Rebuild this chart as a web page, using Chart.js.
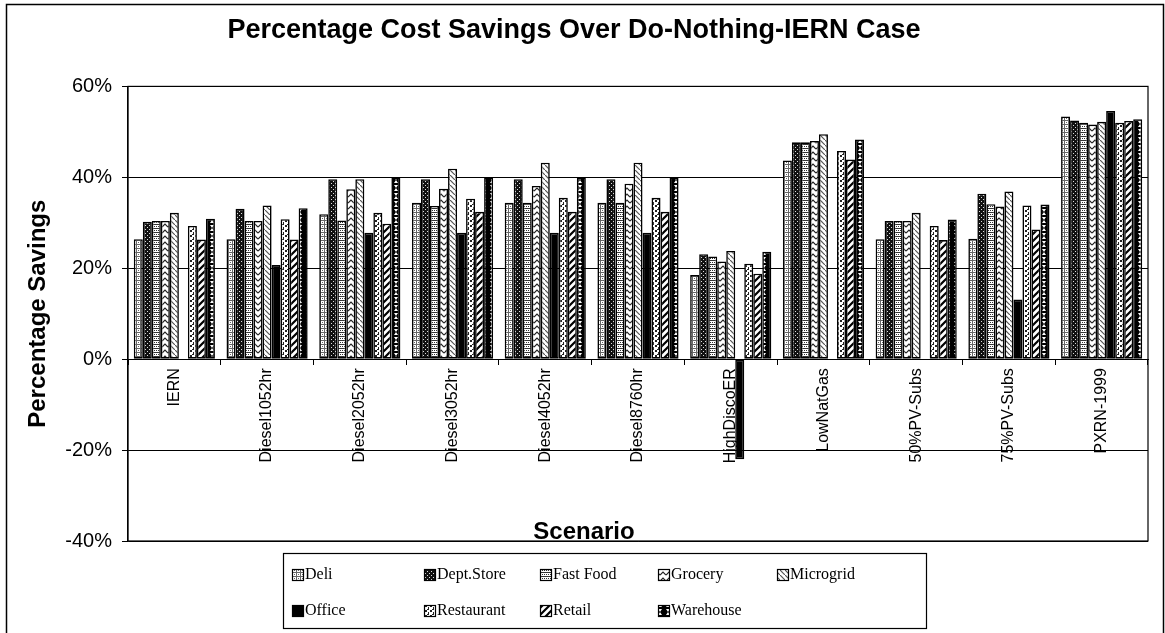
<!DOCTYPE html>
<html>
<head>
<meta charset="utf-8">
<script src="https://cdn.jsdelivr.net/npm/chart.js@4.4.1/dist/chart.umd.min.js"></script>
<style>
  body { margin: 0; background: #fff; }
</style>
</head>
<body>
<canvas id="savingsChart" width="1165" height="633"></canvas>
<script>
// Scenarios (x categories)
const scenarios = ['IERN', 'Diesel1052hr', 'Diesel2052hr', 'Diesel3052hr', 'Diesel4052hr',
    'Diesel8760hr', 'HighDiscoER', 'LowNatGas', '50%PV-Subs', '75%PV-Subs', 'PXRN-1999'];

// Percentage savings per building type
const deli       = [26.4, 26.4, 31.9, 34.4, 34.4, 34.4, 18.5, 43.7, 26.4, 26.5, 53.4];
const deptStore  = [30.2, 33.1, 39.6, 39.6, 39.6, 39.6, 23.1, 47.7, 30.4, 36.4, 52.5];
const fastFood   = [30.4, 30.4, 30.5, 33.7, 34.4, 34.4, 22.6, 47.7, 30.4, 34.1, 52.0];
const grocery    = [30.4, 30.4, 37.4, 37.5, 38.1, 38.6, 21.5, 48.0, 30.4, 33.6, 51.6];
const microgrid  = [32.2, 33.8, 39.6, 41.9, 43.2, 43.2, 23.8, 49.5, 32.2, 36.9, 52.2];
const office     = [0, 20.7, 27.8, 27.8, 27.8, 27.8, -22.0, 0, 0, 13.1, 54.6];
const restaurant = [29.3, 30.8, 32.2, 35.3, 35.5, 35.5, 21.0, 45.8, 29.3, 33.8, 52.0];
const retail     = [26.3, 26.3, 29.8, 32.4, 32.4, 32.4, 18.8, 43.9, 26.2, 28.5, 52.4];
const warehouse  = [30.9, 33.2, 40.0, 40.0, 40.0, 40.0, 23.6, 48.3, 30.7, 34.0, 52.8];

const yTicks = [-40, -20, 0, 20, 40, 60];

// fill patterns (black and white print look)
function pat(size, draw) {
    const c = document.createElement('canvas');
    c.width = c.height = size;
    const g = c.getContext('2d');
    g.fillStyle = '#fff';
    g.fillRect(0, 0, size, size);
    draw(g);
    return g.createPattern(c, 'repeat');
}

const fills = {
    deli: pat(4, g => { g.fillStyle = '#666'; g.fillRect(0, 0, 4, 1); g.fillRect(0, 0, 1, 4); g.fillRect(2, 2, 1, 1); }),
    dept: pat(4, g => { g.fillStyle = '#111'; g.fillRect(0, 0, 4, 4); g.fillStyle = '#ddd'; g.fillRect(1, 1, 1, 1); g.fillRect(3, 3, 1, 1); }),
    fast: pat(4, g => { g.fillStyle = '#333'; g.fillRect(0, 0, 4, 1); g.fillRect(0, 2, 1, 1); g.fillRect(2, 2, 1, 1); }),
    grocery: pat(6, g => {
        g.strokeStyle = '#222'; g.lineWidth = 1.2;
        g.beginPath(); g.moveTo(0, 5); g.lineTo(3, 2); g.lineTo(6, 5); g.stroke();
    }),
    micro: pat(5, g => {
        g.strokeStyle = '#555'; g.lineWidth = 1.2;
        g.beginPath(); g.moveTo(0, 0); g.lineTo(5, 5); g.stroke();
    }),
    office: '#000',
    rest: pat(5, g => { g.fillStyle = '#222'; g.fillRect(0, 0, 2, 2); g.fillRect(3, 2, 1, 2); g.fillRect(2, 4, 2, 1); }),
    retail: pat(7, g => {
        g.strokeStyle = '#000'; g.lineWidth = 2.2;
        g.beginPath();
        g.moveTo(0, 7); g.lineTo(7, 0);
        g.moveTo(-1, 1); g.lineTo(1, -1);
        g.moveTo(6, 8); g.lineTo(8, 6);
        g.stroke();
    }),
    ware: pat(8, g => {
        g.fillStyle = '#000'; g.fillRect(0, 0, 8, 8);
        g.fillStyle = '#fff';
        g.beginPath();
        g.moveTo(2, 1); g.lineTo(6, 1); g.lineTo(4, 4); g.closePath();
        g.moveTo(2, 7); g.lineTo(6, 7); g.lineTo(4, 4); g.closePath();
        g.fill();
    })
};

const series = [
    ['Deli', deli, fills.deli],
    ['Dept.Store', deptStore, fills.dept],
    ['Fast Food', fastFood, fills.fast],
    ['Grocery', grocery, fills.grocery],
    ['Microgrid', microgrid, fills.micro],
    ['Office', office, fills.office],
    ['Restaurant', restaurant, fills.rest],
    ['Retail', retail, fills.retail],
    ['Warehouse', warehouse, fills.ware]
];

// legend grid positions
const legendCols = [298, 430, 546, 664, 783];
const legendRows = [575, 611];

const framePlugin = {
    id: 'frame',
    afterDraw(chart) {
        const ctx = chart.ctx;
        const a = chart.chartArea;
        ctx.save();
        ctx.strokeStyle = '#000';
        ctx.lineWidth = 1.5;
        ctx.strokeRect(6.5, 4.5, 1157, 700);
        ctx.lineWidth = 1.2;
        ctx.strokeRect(a.left, a.top, a.right - a.left, a.bottom - a.top);

        // x axis title sits on the bottom edge
        ctx.fillStyle = '#000';
        ctx.font = 'bold 24px "Liberation Sans", Arial, sans-serif';
        ctx.textAlign = 'center';
        ctx.textBaseline = 'alphabetic';
        ctx.fillText('Scenario', 584, a.bottom - 2);

        // legend box
        ctx.lineWidth = 1.2;
        ctx.strokeRect(283.5, 553.5, 643, 75);
        ctx.font = '16px "Liberation Serif", "Times New Roman", serif';
        ctx.textAlign = 'left';
        ctx.textBaseline = 'middle';
        chart.data.datasets.forEach((ds, i) => {
            const x = legendCols[i % 5];
            const y = legendRows[Math.floor(i / 5)];
            ctx.fillStyle = ds.backgroundColor;
            ctx.fillRect(x - 5.5, y - 5.5, 11, 11);
            ctx.lineWidth = 1.2;
            ctx.strokeRect(x - 5.5, y - 5.5, 11, 11);
            ctx.fillStyle = '#000';
            ctx.fillText(ds.label, x + 7, y);
        });
        ctx.restore();
    }
};

new Chart(document.getElementById('savingsChart'), {
    type: 'bar',
    data: {
        labels: scenarios,
        datasets: series.map(s => ({
            label: s[0],
            data: s[1],
            backgroundColor: s[2],
            borderColor: '#000',
            borderWidth: 1.6,
            borderSkipped: false,
            barPercentage: 1.0,
            categoryPercentage: 0.875
        }))
    },
    options: {
        responsive: false,
        animation: false,
        layout: { padding: { left: 0, right: 17, top: 0, bottom: 92 } },
        plugins: {
            legend: { display: false },
            tooltip: { enabled: false },
            title: {
                display: true,
                text: 'Percentage Cost Savings Over Do-Nothing-IERN Case',
                color: '#000',
                font: { family: '"Liberation Sans", Arial, sans-serif', size: 27, weight: 'bold' },
                padding: { top: 14, bottom: 40 }
            }
        },
        scales: {
            x: {
                position: { y: 0 },
                offset: true,
                afterFit: scale => { scale.height = 0; },
                grid: { drawOnChartArea: false, drawTicks: true, tickLength: 5, color: '#000', offset: true },
                border: { display: true, color: '#000' },
                ticks: {
                    autoSkip: false,
                    minRotation: 90,
                    maxRotation: 90,
                    padding: 4,
                    color: '#000',
                    font: { family: '"Liberation Sans", Arial, sans-serif', size: 16 }
                }
            },
            y: {
                min: -40,
                max: 60,
                afterFit: scale => { scale.width = 128; },
                afterBuildTicks: scale => { scale.ticks = yTicks.map(v => ({ value: v })); },
                grid: { color: '#000', lineWidth: 1, tickLength: 6 },
                border: { display: true, color: '#000', width: 1.2 },
                ticks: {
                    color: '#000',
                    padding: 10,
                    font: { family: '"Liberation Sans", Arial, sans-serif', size: 20 },
                    callback: v => v + '%'
                },
                title: {
                    display: true,
                    text: 'Percentage Savings',
                    color: '#000',
                    padding: { top: 24 },
                    font: { family: '"Liberation Sans", Arial, sans-serif', size: 24, weight: 'bold' }
                }
            }
        }
    },
    plugins: [framePlugin]
});
</script>
</body>
</html>
